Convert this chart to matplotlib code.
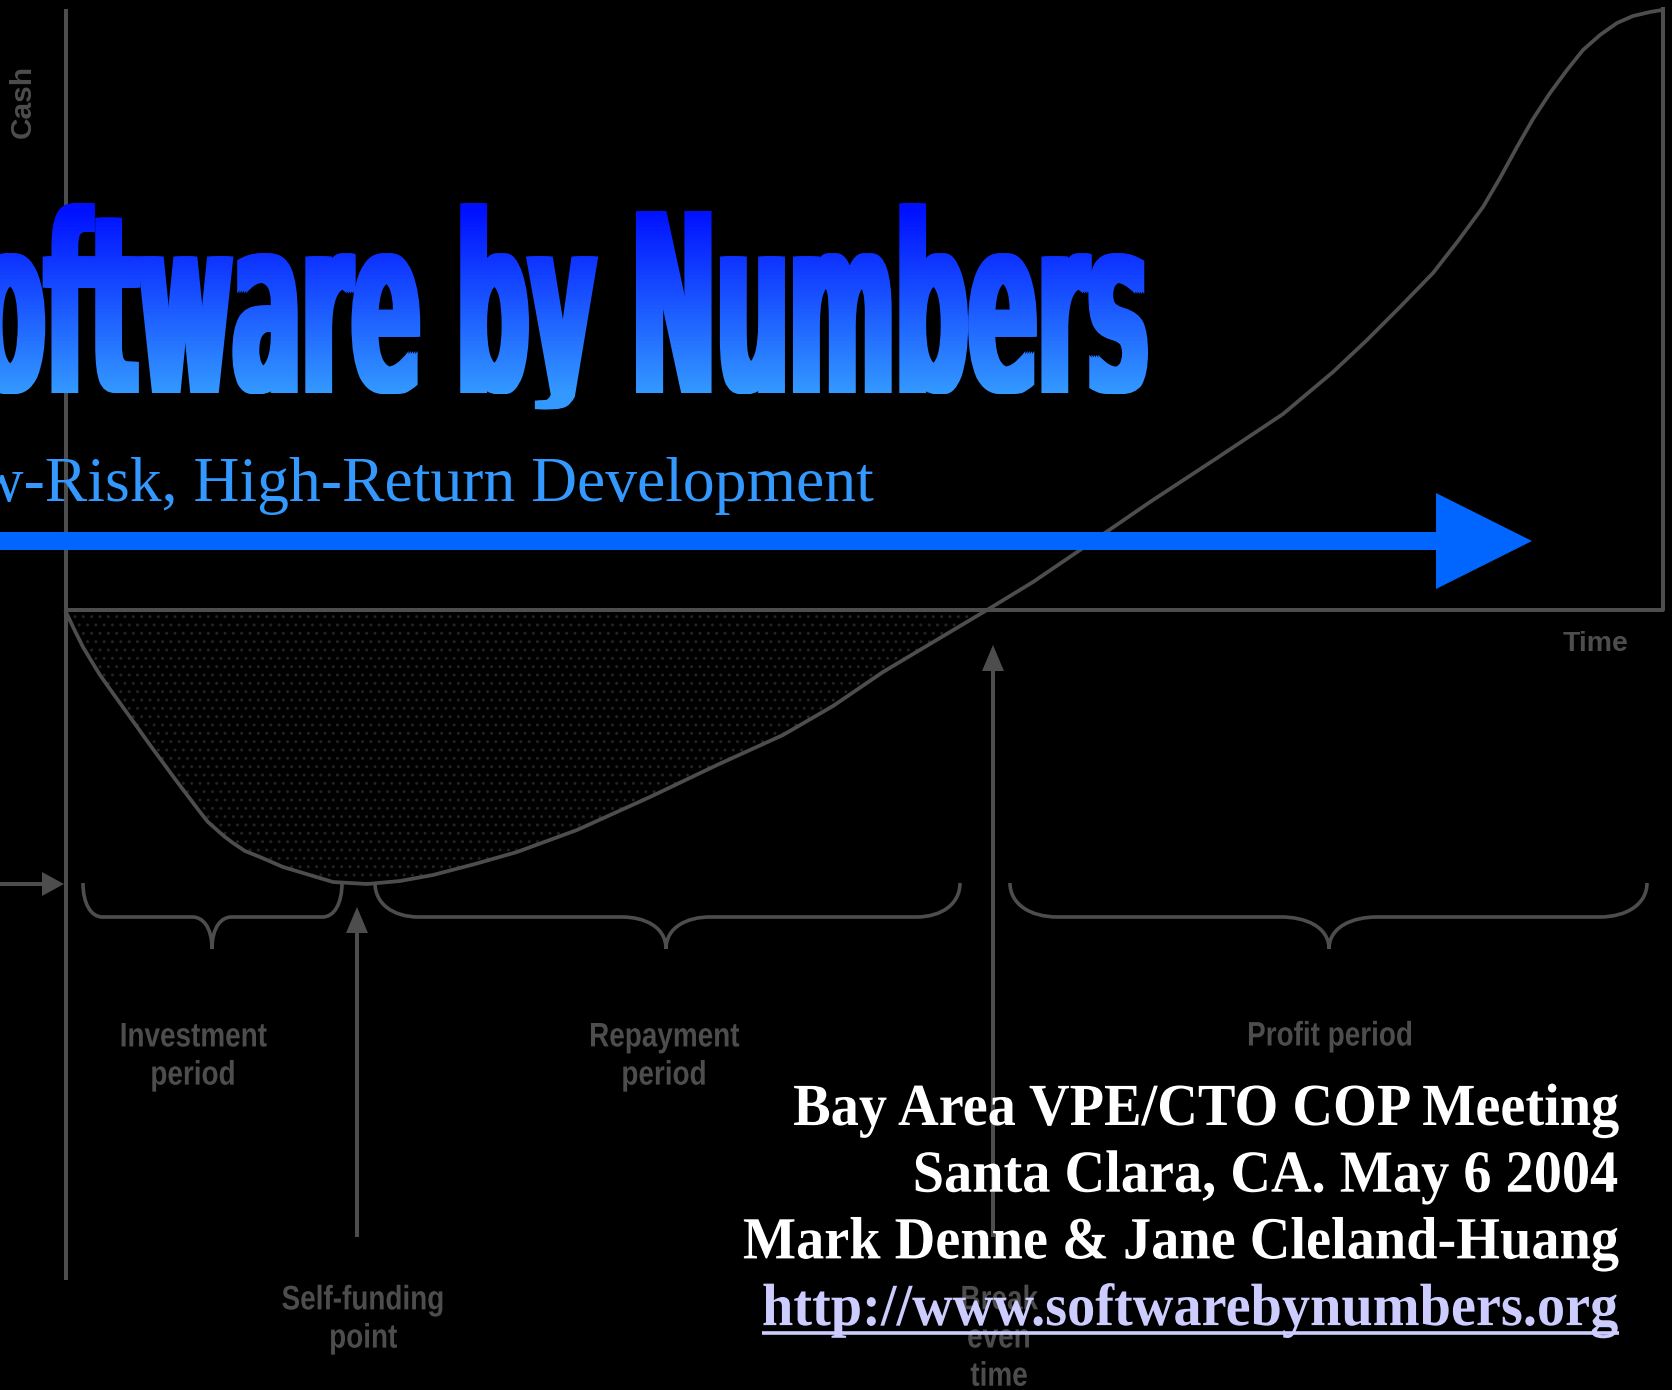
import numpy as np
import matplotlib
matplotlib.use('Agg')
import matplotlib.pyplot as plt
from matplotlib import font_manager
from matplotlib.path import Path
from matplotlib.patches import PathPatch, FancyArrow
from matplotlib.patheffects import AbstractPathEffect
from matplotlib.textpath import TextPath
from matplotlib.font_manager import FontProperties
from matplotlib.transforms import Affine2D, Bbox

# cash curve (time -> px across, cash -> px down)
curve_time = [66, 75, 83, 92, 100, 112, 125, 150, 175, 200, 208, 217, 225, 233, 245, 260,
              283, 333, 367, 400, 433, 475, 517, 577, 650, 717, 783, 833, 883, 950, 987,
              1033, 1083, 1150, 1217, 1283, 1333, 1367, 1400, 1433, 1458, 1483, 1500,
              1517, 1533, 1550, 1567, 1583, 1600, 1617, 1633, 1650, 1662]
curve_cash = [612, 631, 647, 662, 675, 692, 710, 745, 779, 812, 822, 830, 837, 843, 851, 857,
              867, 882, 884, 881, 875, 864, 852, 830, 797, 765, 735, 706, 672, 632, 610,
              582, 548, 502, 458, 414, 372, 340, 307, 273, 241, 207, 178,
              147, 119, 93, 70, 50, 35, 23, 16, 12, 10]
zero_cash = 610

period_labels = ['Investment\nperiod', 'Repayment\nperiod', 'Profit period']
period_start = [83, 375, 1010]
period_end = [342, 960, 1647]
period_mid = [212, 666, 1329]

event_labels = ['Self-funding\npoint', 'Break\neven\ntime']
event_time = [357, 993]

title_text = 'Software by Numbers'
subtitle_text = 'Low-Risk, High-Return Development'
credit_lines = ['Bay Area VPE/CTO COP Meeting', 'Santa Clara, CA. May 6 2004',
                'Mark Denne & Jane Cleland-Huang']
url_text = 'http://www.softwarebynumbers.org'

GREY = '#4d4d4d'
TOP_RGB = np.array([0, 16, 255]) / 255
BOT_RGB = np.array([51, 153, 255]) / 255

names = {f.name for f in font_manager.fontManager.ttflist}
if 'Liberation Sans Narrow' in names:
    narrow, narrow_squeeze = 'Liberation Sans Narrow', 1.0
else:
    narrow, narrow_squeeze = 'Liberation Sans', 0.82


class Squeeze(AbstractPathEffect):
    # horizontal squeeze of the glyph outlines (condensed look)
    def __init__(self, factor, anchor='center'):
        super().__init__()
        self.factor = factor
        self.anchor = anchor

    def draw_path(self, renderer, gc, tpath, affine, rgbFace=None):
        p = affine.transform_path(tpath)
        ext = p.get_extents()
        x = {'center': (ext.x0 + ext.x1) / 2, 'right': ext.x1, 'left': ext.x0}[self.anchor]
        p = Affine2D().translate(-x, 0).scale(self.factor, 1).translate(x, 0).transform_path(p)
        renderer.draw_path(gc, p, Affine2D(), rgbFace)


class SqueezedGradient(AbstractPathEffect):
    # squeeze the glyphs into [x_left, x_right], short descenders, thicker, vertical gradient
    def __init__(self, left_frac, x_left, x_right, y_top, y_bot, thick):
        super().__init__()
        self.left_frac = left_frac
        self.x_left, self.x_right = x_left, x_right
        self.y_top, self.y_bot = y_top, y_bot
        self.thick = thick

    def draw_path(self, renderer, gc, tpath, affine, rgbFace=None):
        H = renderer.height
        p = affine.transform_path(tpath)
        ext = p.get_extents()
        src_l = ext.x0 + self.left_frac * ext.width
        sx = (self.x_right - self.x_left) / (ext.x1 - src_l)
        p = Affine2D().translate(-src_l, 0).scale(sx, 1).translate(self.x_left, 0).transform_path(p)
        top, bot = H - self.y_top, H - self.y_bot
        v = p.vertices.copy()
        m = v[:, 1] < bot
        v[m, 1] = bot - (bot - v[m, 1]) * 0.3
        p = Path(v, p.codes)
        for lo in range(int(bot) - 30, int(top) + 8, 2):
            f = np.clip((top - (lo + 1)) / (top - bot), 0, 1)
            color = tuple(TOP_RGB + (BOT_RGB - TOP_RGB) * f)
            gc0 = renderer.new_gc()
            gc0.copy_properties(gc)
            gc0.set_clip_rectangle(Bbox([[-5000, lo], [5000, lo + 2]]))
            gc0.set_linewidth(0)
            for dx in np.linspace(0, self.thick, 5):
                renderer.draw_path(gc0, p, Affine2D().translate(dx, 0), color)
            gc0.restore()


def brace(x0, x1, xm, yt=883, ym=917, yb=949):
    r = 0.075 * (x1 - x0)
    verts = [(x0, yt), (x0, yt + 0.6 * (ym - yt)), (x0 + 0.4 * r, ym), (x0 + r, ym),
             (xm - r, ym),
             (xm - 0.5 * r, ym), (xm, ym + 0.3 * (yb - ym)), (xm, yb),
             (xm, ym + 0.3 * (yb - ym)), (xm + 0.5 * r, ym), (xm + r, ym),
             (x1 - r, ym),
             (x1 - 0.4 * r, ym), (x1, yt + 0.6 * (ym - yt)), (x1, yt)]
    codes = [Path.MOVETO] + [Path.CURVE4] * 3 + [Path.LINETO] + [Path.CURVE4] * 6 + \
            [Path.LINETO] + [Path.CURVE4] * 3
    return Path(verts, codes)


fig = plt.figure(figsize=(16.72, 13.90), dpi=100, facecolor='black')
ax = fig.add_axes([0, 0, 1, 1])
ax.set_facecolor('black')
ax.axis('off')

# chart frame
ax.plot([66, 66], [9, 1280], color=GREY, lw=2.9, solid_capstyle='butt', zorder=2)
ax.plot([66, 1663, 1663], [zero_cash, zero_cash, 9], color=GREY, lw=2.9, zorder=2)

# cash curve and the dotted investment area
t = np.array(curve_time)
c = np.array(curve_cash)
ax.fill_between(t, c, zero_cash, where=c >= zero_cash, interpolate=True,
                facecolor='none', edgecolor='#232323', hatch='..', lw=0, zorder=1)
ax.plot(t, c, color=GREY, lw=2.7, zorder=3, solid_joinstyle='round')

label_kw = dict(ha='center', va='center', fontsize=24.5, family=narrow, fontweight='bold',
                color=GREY, linespacing=1.3, zorder=3,
                path_effects=[Squeeze(narrow_squeeze)])

# period braces + labels
label_x = [193, 664, 1330]
label_y = [1057, 1057, 1037]
for i in range(len(period_labels)):
    ax.add_patch(PathPatch(brace(period_start[i], period_end[i], period_mid[i]),
                           fc='none', ec=GREY, lw=2.6, zorder=3))
    ax.text(label_x[i], label_y[i], period_labels[i], **label_kw)

# event arrows + labels
event_tip = [907, 645]
event_label_y = [1320, 1339]
for i in range(len(event_labels)):
    ax.add_patch(FancyArrow(event_time[i], 1237, 0, event_tip[i] - 1237, width=4,
                            head_width=22, head_length=26, length_includes_head=True,
                            color=GREY, lw=0, zorder=3))
    ax.text(event_time[i] + 6, event_label_y[i], event_labels[i], **label_kw)

ax.add_patch(FancyArrow(0, 884, 64, 0, width=4, head_width=24, head_length=22,
                        length_includes_head=True, color=GREY, lw=0, zorder=3))

ax.text(23, 101, 'Cash', rotation=90, ha='center', va='center', fontsize=21.5,
        family='Liberation Sans', fontweight='bold', color=GREY)
ax.text(1596, 644, 'Time', ha='center', va='center', fontsize=20.5,
        family='Liberation Sans', fontweight='bold', color=GREY)

# title
fp = FontProperties(family='DejaVu Sans', weight='bold')
full = TextPath((0, 0), title_text, size=100, prop=fp).get_extents()
rest = TextPath((0, 0), title_text[1:], size=100, prop=fp).get_extents()
cap = TextPath((0, 0), 'N', size=100, prop=fp).get_extents().y1
left_frac = (full.x1 - rest.width - full.x0) / full.width
title_pt = 182 / (cap / 100) * 0.72
thick = 9
ax.text(0, 393, title_text, fontproperties=fp, fontsize=title_pt, ha='left', va='baseline',
        zorder=5, path_effects=[SqueezedGradient(left_frac, -25, 1148 - thick, 211, 393, thick)])

ax.text(874, 501, subtitle_text, ha='right', va='baseline', fontsize=45.8,
        family='Liberation Serif', color='#3399ff', zorder=5)

# big blue arrow
ax.add_patch(FancyArrow(-20, 541, 1552, 0, width=18, head_width=96, head_length=96,
                        length_includes_head=True, color='#0066ff', lw=0, zorder=6))

# credits
credit_squeeze = 0.943
credit_kw = dict(ha='right', va='baseline', fontsize=43, family='Liberation Serif',
                 fontweight='bold', zorder=7, path_effects=[Squeeze(credit_squeeze, 'right')])
for i, line in enumerate(credit_lines):
    ax.text(1619, 1125 + i * 66.7, line, color='white', **credit_kw)
url = ax.text(1619, 1125 + 3 * 66.7, url_text, color='#ccccff', **credit_kw)

ax.set_xlim(0, 1672)
ax.set_ylim(1390, 0)

fig.canvas.draw()
bb = url.get_window_extent(fig.canvas.get_renderer())
inv = ax.transData.inverted()
bx0 = bb.x1 - (bb.x1 - bb.x0) * credit_squeeze
(ux0, _), (ux1, _) = inv.transform([[bx0, bb.y0], [bb.x1, bb.y0]])
ax.plot([ux0, ux1], [1125 + 3 * 66.7 + 8] * 2, color='#ccccff', lw=2.6,
        solid_capstyle='butt', zorder=7)

fig.savefig('out.png', dpi=100, facecolor='black')
